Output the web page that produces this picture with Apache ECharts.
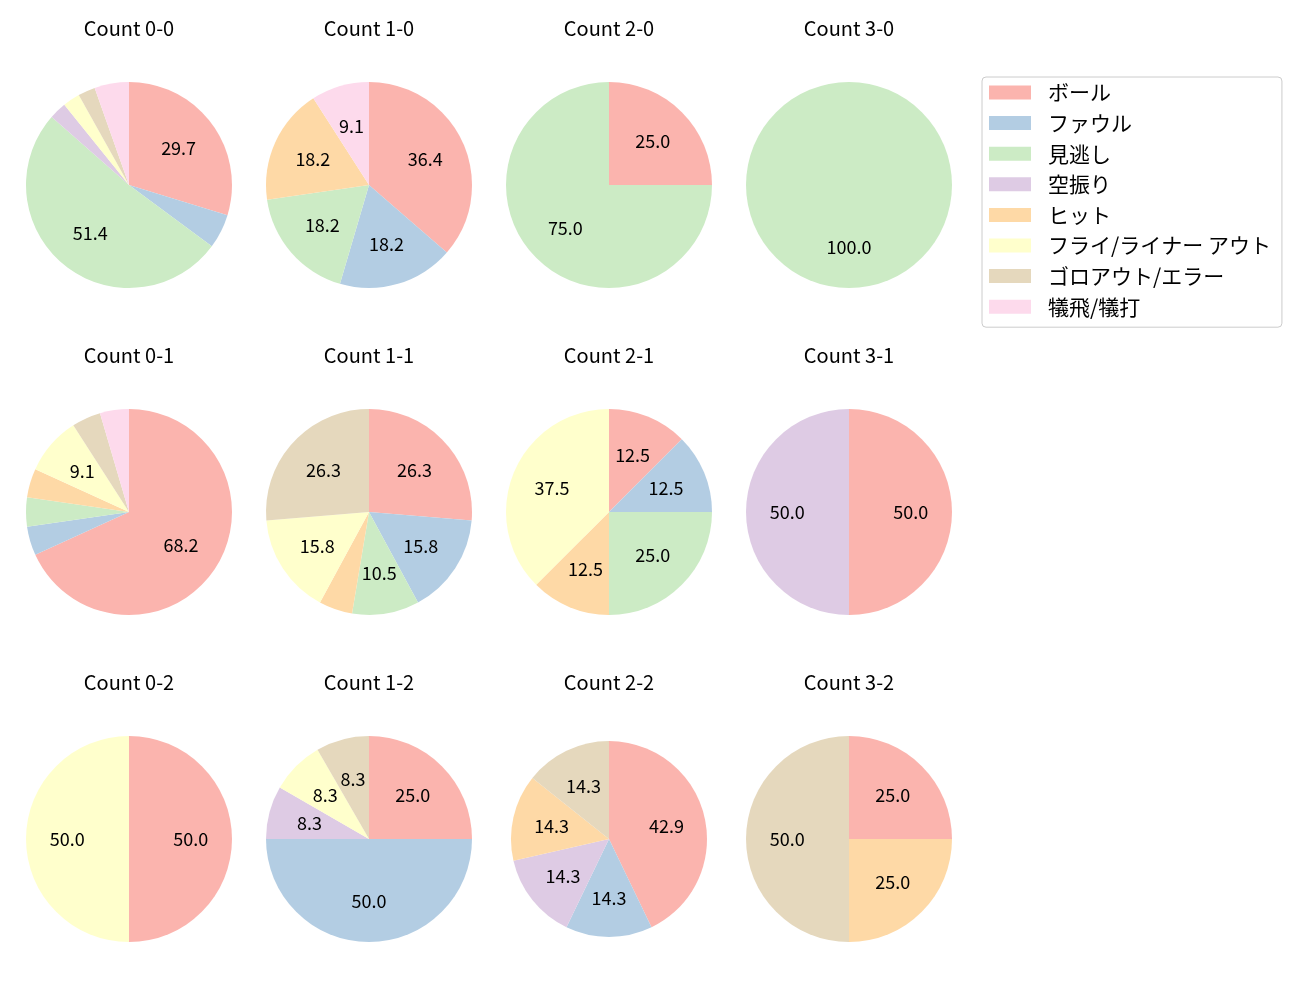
<!DOCTYPE html>
<html>
<head>
<meta charset="utf-8">
<script src="https://cdn.jsdelivr.net/npm/echarts@6/dist/echarts.min.js"></script>
<style>
html,body{margin:0;padding:0;background:#fff;}
#main{width:1300px;height:1000px;}
</style>
</head>
<body>
<div id="main"></div>
<script>
const categories = ['ボール','ファウル','見逃し','空振り','ヒット','フライ/ライナー アウト','ゴロアウト/エラー','犠飛/犠打'];
const countLabels = ['Count 0-0','Count 1-0','Count 2-0','Count 3-0','Count 0-1','Count 1-1','Count 2-1','Count 3-1','Count 0-2','Count 1-2','Count 2-2','Count 3-2'];
const c00 = [11,2,19,1,0,1,1,2];
const c10 = [4,2,2,0,2,0,0,1];
const c20 = [1,0,3,0,0,0,0,0];
const c30 = [0,0,1,0,0,0,0,0];
const c01 = [15,1,1,0,1,2,1,1];
const c11 = [5,3,2,0,1,3,5,0];
const c21 = [1,1,2,0,1,3,0,0];
const c31 = [1,0,0,1,0,0,0,0];
const c02 = [1,0,0,0,0,1,0,0];
const c12 = [3,6,0,1,0,1,1,0];
const c22 = [3,1,0,1,1,0,1,0];
const c32 = [1,0,0,0,1,0,2,0];
const allCounts = [c00,c10,c20,c30,c01,c11,c21,c31,c02,c12,c22,c32];

const palette = ['#fbb4ae','#b3cde3','#ccebc5','#decbe4','#fed9a6','#ffffcc','#e5d8bd','#fddaec'];
const FONT = 'Noto Sans CJK JP';

const colX = [129, 369, 609, 849];
const rowY = [185, 512, 839];
const R = 103;

const series = [];
const overlays = [];
const titles = [];
allCounts.forEach((vals, i) => {
  const col = i % 4, row = Math.floor(i / 4);
  const cx = colX[col], cy = rowY[row];
  const r = (i === 10) ? 98 : R;
  const data = categories.map((name, k) => ({ name: name, value: vals[k] }));
  series.push({
    type: 'pie',
    center: [cx, cy],
    radius: [0, r],
    startAngle: 90,
    clockwise: true,
    avoidLabelOverlap: false,
    stillShowZeroSum: false,
    animation: false,
    label: { show: false },
    labelLine: { show: false },
    emphasis: { disabled: true },
    itemStyle: { borderWidth: 0 },
    data: data
  });
  overlays.push({
    type: 'pie',
    center: [cx, cy],
    radius: [0, r * 1.14],
    startAngle: 90,
    clockwise: true,
    avoidLabelOverlap: false,
    animation: false,
    silent: true,
    legendHoverLink: false,
    itemStyle: { color: 'rgba(0,0,0,0)', borderWidth: 0 },
    emphasis: { disabled: true },
    labelLine: { show: false },
    label: {
      show: true,
      position: 'inside',
      color: '#000',
      fontFamily: FONT,
      fontSize: 18,
      formatter: function (p) {
        return p.percent >= 7 ? p.percent.toFixed(1) : '';
      }
    },
    data: data
  });
  titles.push({
    text: countLabels[i],
    left: cx,
    top: cy - 167,
    textAlign: 'center',
    padding: 0,
    textStyle: { fontFamily: FONT, fontSize: 20, fontWeight: 'normal', color: '#000' }
  });
});

const chart = echarts.init(document.getElementById('main'), null, { renderer: 'canvas' });
chart.setOption({
  backgroundColor: '#fff',
  animation: false,
  color: palette,
  title: titles,
  legend: {
    data: categories,
    orient: 'vertical',
    left: 982,
    top: 77,
    icon: 'rect',
    itemWidth: 42,
    itemHeight: 14,
    itemGap: 9.6,
    padding: [5, 11, 10, 7],
    borderColor: '#cccccc',
    borderWidth: 1,
    borderRadius: 4,
    selectedMode: false,
    textStyle: { fontFamily: FONT, fontSize: 21, color: '#000', padding: [0, 0, 0, 12], lineHeight: 21 }
  },
  series: series.concat(overlays)
});
</script>
</body>
</html>
